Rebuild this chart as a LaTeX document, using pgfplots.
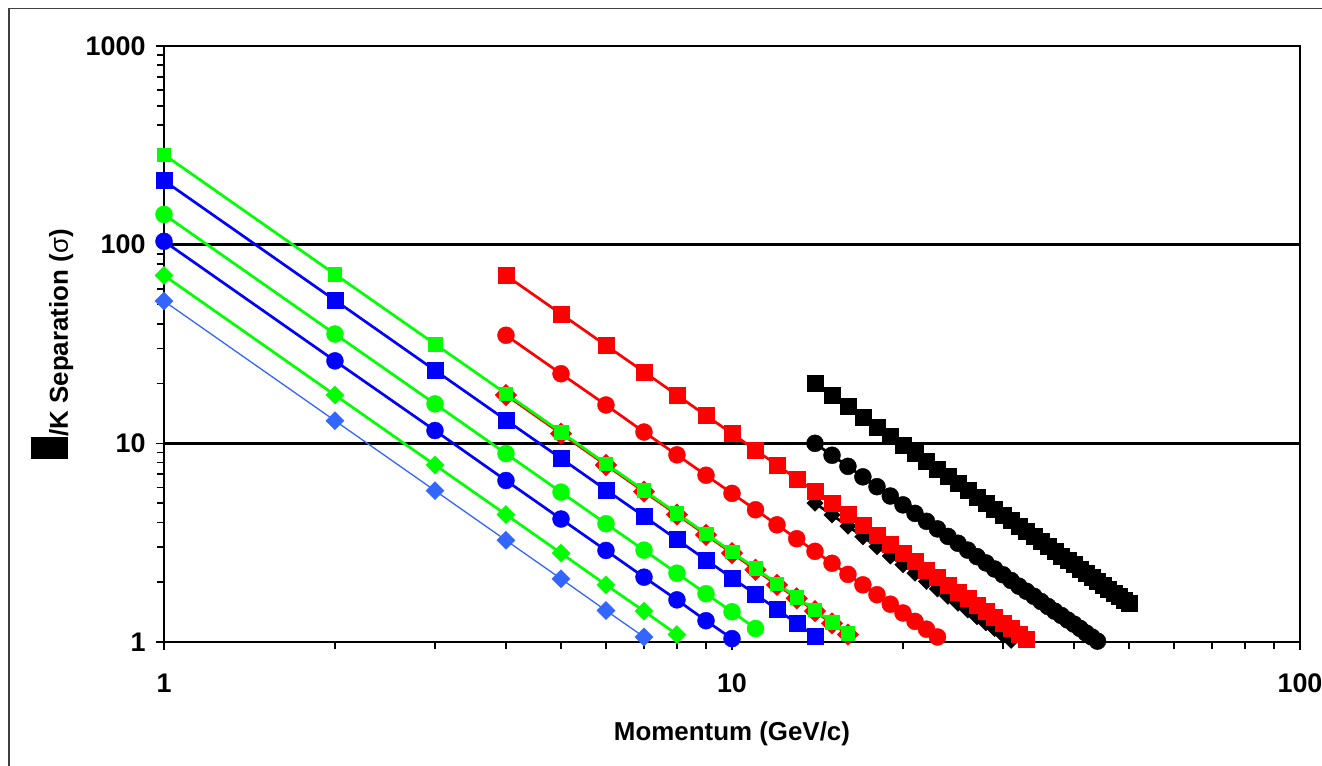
\documentclass[border=0pt]{standalone}
\usepackage{fontspec}
\setmainfont{Liberation Sans}
\usepackage{pgfplots}
\pgfplotsset{compat=1.18}

\definecolor{xlime}{RGB}{0,255,0}
\definecolor{xblue}{RGB}{0,0,255}
\definecolor{xlightblue}{RGB}{51,102,255}
\definecolor{xred}{RGB}{255,0,0}

\pgfplotsset{
  sq/.style={line width=2.7bp, color=#1, mark=square*, mark size=8bp,
    mark options={solid, line width=0.4bp, draw=#1, fill=#1}},
  sqs/.style={line width=2.7bp, color=#1, mark=square*, mark size=6.7bp,
    mark options={solid, line width=0.4bp, draw=#1, fill=#1}},
  ci/.style={line width=2.7bp, color=#1, mark=*, mark size=8.5bp,
    mark options={solid, line width=0.4bp, draw=#1, fill=#1}},
  di/.style={line width=2.7bp, color=#1, mark=square*, mark size=6.4bp,
    mark options={solid, rotate=45, line width=0.4bp, draw=#1, fill=#1}},
}

\begin{document}
\begin{tikzpicture}[x=1bp,y=1bp]
\path[use as bounding box] (-164,-123) rectangle (1158,642);
% page frame
\draw[line width=1.6bp, black!75] (-155,-140) -- (-155,633.5) -- (1180,633.5);
\begin{axis}[
  at={(0,0)}, anchor=south west,
  scale only axis, width=1136bp, height=596bp,
  xmode=log, ymode=log,
  xmin=1, xmax=100, ymin=1, ymax=1000,
  xtick={1,10,100}, xticklabels={1,10,100},
  ytick={1,10,100,1000}, yticklabels={1,10,100,1000},
  tick pos=left, tick align=outside,
  major tick length=8bp, minor tick length=7bp,
  every tick/.style={black, line width=1.6bp},
  axis line style={black, line width=2.6bp},
  ymajorgrids, grid style={black, line width=2.6bp},
  ticklabel style={font=\fontsize{27}{32}\selectfont\bfseries},
  xticklabel style={anchor=base, yshift=-43bp},
  yticklabel style={xshift=-7bp},
  xlabel={Momentum (GeV/c)},
  xlabel style={at={(axis description cs:0.5,0)}, anchor=base, yshift=-98bp,
    font=\fontsize{26}{30}\selectfont\bfseries},
  clip=false,
]

% black diamonds
\addplot[di=black, mark size=5.8bp] coordinates {
(14,5.00) (15,4.36) (16,3.83) (17,3.39) (18,3.02) (19,2.71) (20,2.45) (21,2.22)
(22,2.02) (23,1.85) (24,1.70) (25,1.57) (26,1.45) (27,1.34) (28,1.25) (29,1.17)
(30,1.09) (31,1.02)};

% black circles
\addplot[ci=black] coordinates {
(14,10.0) (15,8.71) (16,7.66) (17,6.78) (18,6.05) (19,5.43) (20,4.90) (21,4.44)
(22,4.05) (23,3.71) (24,3.40) (25,3.14) (26,2.90) (27,2.69) (28,2.50) (29,2.33)
(30,2.18) (31,2.04) (32,1.91) (33,1.80) (34,1.70) (35,1.60) (36,1.51) (37,1.43)
(38,1.36) (39,1.29) (40,1.23) (41,1.17) (42,1.11) (43,1.06) (44,1.01)};

% black squares
\addplot[sq=black] coordinates {
(14,20.0) (15,17.4) (16,15.3) (17,13.6) (18,12.1) (19,10.9) (20,9.80) (21,8.89)
(22,8.10) (23,7.41) (24,6.81) (25,6.27) (26,5.80) (27,5.38) (28,5.00) (29,4.66)
(30,4.36) (31,4.08) (32,3.83) (33,3.60) (34,3.39) (35,3.20) (36,3.02) (37,2.86)
(38,2.71) (39,2.58) (40,2.45) (41,2.33) (42,2.22) (43,2.12) (44,2.02) (45,1.94)
(46,1.85) (47,1.77) (48,1.70) (49,1.63) (50,1.57)};

% red diamonds
\addplot[di=xred, mark size=7.6bp] coordinates {
(4,17.5) (5,11.2) (6,7.78) (7,5.71) (8,4.38) (9,3.46) (10,2.80) (11,2.31)
(12,1.94) (13,1.66) (14,1.43) (15,1.24) (16,1.09)};

% red circles
\addplot[ci=xred] coordinates {
(4,35.0) (5,22.4) (6,15.6) (7,11.4) (8,8.75) (9,6.91) (10,5.60) (11,4.63)
(12,3.89) (13,3.31) (14,2.86) (15,2.49) (16,2.19) (17,1.94) (18,1.73) (19,1.55)
(20,1.40) (21,1.27) (22,1.16) (23,1.06)};

% red squares
\addplot[sq=xred] coordinates {
(4,70.0) (5,44.8) (6,31.1) (7,22.9) (8,17.5) (9,13.8) (10,11.2) (11,9.26)
(12,7.78) (13,6.63) (14,5.71) (15,4.98) (16,4.38) (17,3.88) (18,3.46) (19,3.10)
(20,2.80) (21,2.54) (22,2.31) (23,2.12) (24,1.94) (25,1.79) (26,1.66) (27,1.54)
(28,1.43) (29,1.33) (30,1.24) (31,1.17) (32,1.09) (33,1.03)};

% light blue diamonds
\addplot[di=xlightblue, line width=1.3bp] coordinates {
(1,52) (2,13.0) (3,5.78) (4,3.25) (5,2.08) (6,1.44) (7,1.06)};

% green diamonds
\addplot[di=xlime] coordinates {
(1,70) (2,17.5) (3,7.78) (4,4.38) (5,2.80) (6,1.94) (7,1.43) (8,1.09)};

% blue circles
\addplot[ci=xblue] coordinates {
(1,104) (2,26.0) (3,11.6) (4,6.50) (5,4.16) (6,2.89) (7,2.12) (8,1.63)
(9,1.28) (10,1.04)};

% green circles
\addplot[ci=xlime] coordinates {
(1,142) (2,35.5) (3,15.8) (4,8.88) (5,5.68) (6,3.94) (7,2.90) (8,2.22)
(9,1.75) (10,1.42) (11,1.17)};

% blue squares
\addplot[sq=xblue] coordinates {
(1,210) (2,52.5) (3,23.3) (4,13.1) (5,8.40) (6,5.83) (7,4.29) (8,3.28)
(9,2.59) (10,2.10) (11,1.74) (12,1.46) (13,1.24) (14,1.07)};

% green squares
\addplot[sqs=xlime] coordinates {
(1,284) (2,71.0) (3,31.6) (4,17.8) (5,11.4) (6,7.89) (7,5.80) (8,4.44)
(9,3.51) (10,2.84) (11,2.35) (12,1.97) (13,1.68) (14,1.45) (15,1.26) (16,1.11)};

\end{axis}
% y axis title, rotated, baseline on its right side
\node[rotate=90, anchor=base, inner sep=0pt, font=\fontsize{26}{30}\selectfont\bfseries]
  at (-96,298) {\rule{22bp}{37bp}/K Separation ({\mdseries σ})};
\end{tikzpicture}
\end{document}
